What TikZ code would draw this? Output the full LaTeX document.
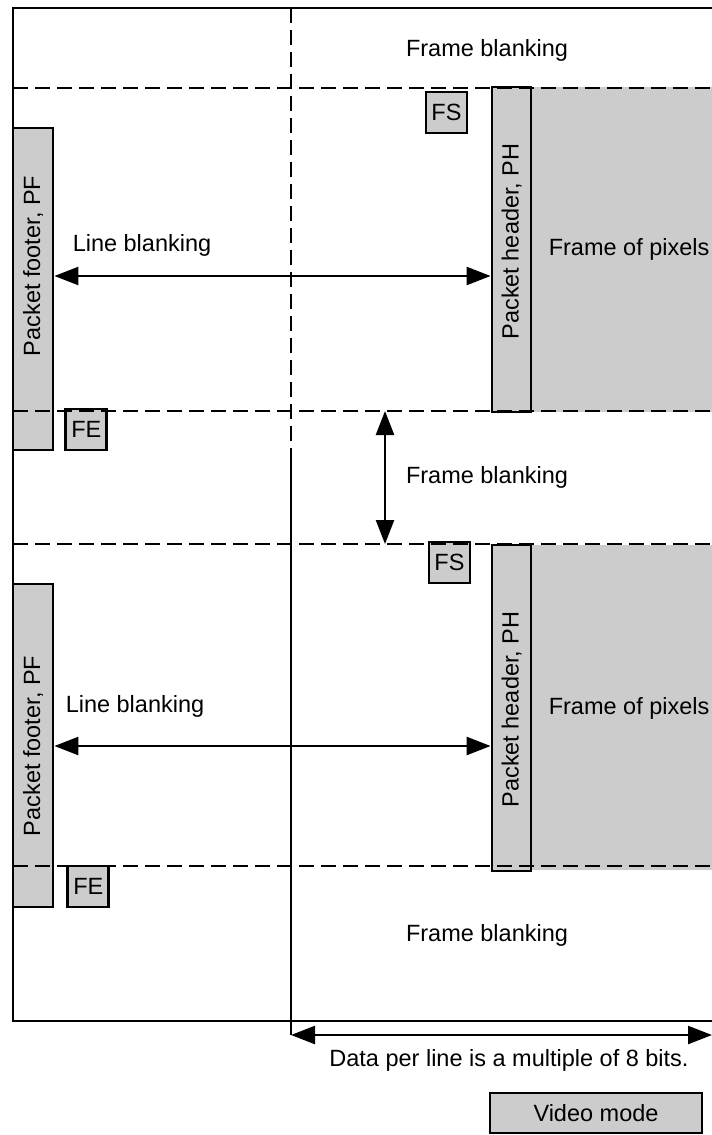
\documentclass[tikz,border=0pt]{standalone}
\usepackage{fontspec}
\setmainfont{Liberation Sans}
\usetikzlibrary{arrows.meta, positioning}
\definecolor{BoxGray}{HTML}{CCCCCC}

\begin{document}
\begin{tikzpicture}[
    x=0.5pt, y=-0.5pt,
    font=\fontsize{11.75}{14}\selectfont,
    outline/.style={line width=1.4pt},
    sepline/.style={line width=1.4pt, dash pattern=on 7.5pt off 3.5pt},
    pkt/.style={draw, fill=BoxGray, line width=1.4pt, inner sep=0pt, minimum width=20pt},
    flag/.style={pkt, minimum size=20.5pt},
    vlbl/.style={rotate=90, inner sep=0pt},
    lbl/.style={inner sep=0pt},
    arrow/.style={{Triangle[length=12pt, width=9pt]}-{Triangle[length=12pt, width=9pt]}, line width=1.2pt}
  ]
  \useasboundingbox (0,0) rectangle (712,1135);

  % Frames of pixels
  \fill[BoxGray] (531,87) rectangle (712,412);
  \fill[BoxGray] (531,545) rectangle (712,870);

  % Packets
  \node[pkt, minimum height=161pt] (pf1) at (33,289) {};
  \node[pkt, minimum height=161.5pt] (pf2) at (33,745.5) {};
  \node[pkt, minimum width=19.5pt, minimum height=162.5pt] (ph1) at (511.5,249.5) {};
  \node[pkt, minimum width=19.5pt, minimum height=163pt] (ph2) at (511.5,708) {};
  \node[flag, right=5pt of pf1.south east, anchor=south west] (fe1) {FE};
  \node[flag, right=6pt of pf2.south east, anchor=south west] (fe2) {FE};
  \node[flag] (fs1) at (446.5,112.5) {FS};
  \node[flag] (fs2) at (449.5,562.5) {FS};

  % Grid
  \draw[outline] (712,8) -- (13,8) -- (13,1021) -- (712,1021);
  \draw[sepline] (291,8) -- (291,1042);
  \draw[outline] (291,455) -- (291,1021);
  \draw[sepline] (13,88) -- (712,88);
  \draw[sepline] (13,411) -- (712,411);
  \draw[sepline] (13,544) -- (712,544);
  \draw[sepline] (13,866) -- (712,866);

  % Labels
  \node[lbl] (fbtxt1) at (487,50) {Frame blanking};
  \node[lbl] (fbtxt2) at (487,477) {Frame blanking};
  \node[lbl] (fbtxt3) at (487,935) {Frame blanking};
  \node[lbl] (lbtxt1) at (142,245) {Line blanking};
  \node[lbl] (lbtxt2) at (135,706) {Line blanking};
  \node[lbl, right=8pt of ph1] (fptxt1) {Frame of pixels};
  \node[lbl, right=8pt of ph2] (fptxt2) {Frame of pixels};
  \node[vlbl] (pftxt1) at (33,266) {Packet footer, PF};
  \node[vlbl] (pftxt2) at (33,746) {Packet footer, PF};
  \node[vlbl] (phtxt1) at (511.5,241.5) {Packet header, PH};
  \node[vlbl] (phtxt2) at (511.5,709.5) {Packet header, PH};
  \node[lbl] (datatxt) at (509,1060) {Data per line is a multiple of 8 bits.};
  \node[pkt, minimum width=106pt, minimum height=20pt] (mode) at (596,1113) {Video mode};

  % Arrows
  \coordinate (fbtop) at (385,411);
  \coordinate (fbbot) at (385,544);
  \coordinate (dl0) at (291,1035);
  \coordinate (dl1) at (712,1035);
  \draw[arrow] (pf1.east |- 0,276) -- (ph1.west |- 0,276);
  \draw[arrow] (pf2.east |- 0,746) -- (ph2.west |- 0,746);
  \draw[arrow] (fbtop) -- (fbbot);
  \draw[arrow] (dl0) -- (dl1);
\end{tikzpicture}
\end{document}
